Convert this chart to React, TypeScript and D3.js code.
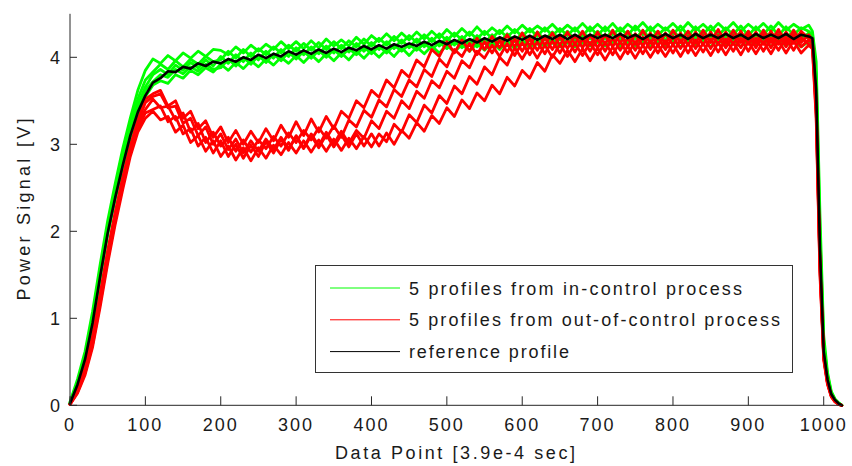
import React from "react";
import * as d3 from "d3";

const dataPoint = [
  0,10,20,30,40,50,60,70,80,90,
  100,110,120,130,140,150,160,170,180,190,
  200,210,220,230,240,250,260,270,280,290,
  300,310,320,330,340,350,360,370,380,390,
  400,410,420,430,440,450,460,470,480,490,
  500,510,520,530,540,550,560,570,580,590,
  600,610,620,630,640,650,660,670,680,690,
  700,710,720,730,740,750,760,770,780,790,
  800,810,820,830,840,850,860,870,880,890,
  900,910,920,930,940,950,960,970,980,
  985,990,995,1000,1005,1010,1015,1020,1024,
];

const reference = [
  0.02,0.24,0.53,0.95,1.48,1.98,2.39,2.76,3.10,3.37,
  3.56,3.71,3.76,3.84,3.83,3.89,3.87,3.93,3.90,3.95,
  3.93,3.98,3.95,4.00,3.97,4.03,3.99,4.04,4.01,4.07,
  4.03,4.08,4.04,4.09,4.05,4.10,4.06,4.11,4.08,4.13,
  4.09,4.14,4.10,4.15,4.12,4.16,4.13,4.18,4.14,4.19,
  4.15,4.20,4.16,4.21,4.17,4.22,4.18,4.23,4.19,4.24,
  4.20,4.25,4.20,4.25,4.21,4.26,4.21,4.26,4.21,4.26,
  4.22,4.26,4.22,4.27,4.22,4.26,4.21,4.26,4.22,4.27,
  4.22,4.26,4.21,4.27,4.22,4.26,4.22,4.27,4.22,4.26,
  4.21,4.27,4.22,4.26,4.22,4.27,4.21,4.26,4.24,
  4.22,3.62,1.80,0.62,0.30,0.13,0.06,0.02,0.00,
];

const inControl1 = [
  0.04,0.30,0.62,1.08,1.62,2.12,2.55,2.95,3.30,3.62,
  3.85,3.98,3.93,4.02,3.96,4.05,3.99,4.07,4.01,4.09,
  4.08,4.03,4.12,4.05,4.14,4.07,4.15,4.09,4.18,4.10,
  4.18,4.10,4.19,4.11,4.21,4.13,4.20,4.13,4.23,4.15,
  4.25,4.18,4.27,4.19,4.28,4.20,4.29,4.21,4.30,4.22,
  4.32,4.24,4.33,4.25,4.35,4.26,4.34,4.27,4.36,4.28,
  4.37,4.29,4.36,4.30,4.38,4.29,4.37,4.30,4.39,4.30,
  4.38,4.30,4.39,4.29,4.38,4.31,4.40,4.30,4.38,4.31,
  4.39,4.30,4.40,4.31,4.38,4.30,4.39,4.31,4.40,4.30,
  4.38,4.31,4.39,4.30,4.40,4.31,4.38,4.32,4.37,
  4.30,3.95,2.20,0.80,0.38,0.16,0.07,0.03,0.00,
];
const inControl2 = [
  0.03,0.27,0.58,1.03,1.57,2.06,2.48,2.88,3.24,3.52,
  3.74,3.83,3.92,3.86,3.96,3.89,3.98,3.92,4.01,3.95,
  3.97,4.07,3.99,4.09,4.01,4.10,4.03,4.12,4.05,4.14,
  4.07,4.16,4.08,4.17,4.09,4.18,4.10,4.19,4.12,4.21,
  4.13,4.22,4.14,4.24,4.16,4.25,4.17,4.26,4.18,4.27,
  4.19,4.28,4.20,4.29,4.21,4.30,4.22,4.31,4.23,4.32,
  4.24,4.33,4.24,4.34,4.25,4.33,4.25,4.34,4.24,4.35,
  4.25,4.35,4.26,4.34,4.25,4.36,4.26,4.35,4.25,4.34,
  4.26,4.36,4.25,4.35,4.26,4.36,4.25,4.34,4.26,4.36,
  4.25,4.35,4.26,4.36,4.25,4.35,4.26,4.34,4.30,
  4.26,3.80,2.00,0.72,0.35,0.15,0.07,0.02,0.00,
];
const inControl3 = [
  0.02,0.25,0.55,0.99,1.53,2.02,2.43,2.82,3.17,3.45,
  3.66,3.80,3.86,3.80,3.91,3.85,3.94,3.88,3.97,3.90,
  4.01,3.93,4.03,3.95,4.05,3.97,4.07,3.99,4.09,4.01,
  4.11,4.03,4.12,4.04,4.13,4.05,4.14,4.06,4.16,4.07,
  4.17,4.09,4.18,4.10,4.20,4.11,4.21,4.12,4.22,4.13,
  4.23,4.14,4.24,4.15,4.25,4.16,4.26,4.17,4.27,4.18,
  4.28,4.19,4.29,4.20,4.29,4.20,4.30,4.20,4.29,4.21,
  4.30,4.21,4.31,4.20,4.30,4.21,4.31,4.21,4.30,4.20,
  4.31,4.21,4.30,4.21,4.31,4.20,4.30,4.21,4.31,4.21,
  4.30,4.20,4.31,4.21,4.30,4.21,4.31,4.20,4.28,
  4.24,3.70,1.90,0.66,0.32,0.14,0.06,0.02,0.00,
];
const inControl4 = [
  0.02,0.24,0.53,0.96,1.50,2.00,2.41,2.79,3.13,3.41,
  3.62,3.72,3.80,3.77,3.86,3.81,3.89,3.84,3.92,3.86,
  3.88,3.98,3.90,4.00,3.92,4.02,3.94,4.04,3.96,4.06,
  3.98,4.07,3.99,4.08,4.00,4.09,4.01,4.10,4.03,4.12,
  4.04,4.13,4.05,4.14,4.07,4.15,4.08,4.16,4.09,4.17,
  4.10,4.18,4.11,4.19,4.12,4.20,4.13,4.21,4.14,4.22,
  4.15,4.23,4.15,4.24,4.16,4.24,4.16,4.25,4.16,4.25,
  4.17,4.26,4.17,4.25,4.16,4.26,4.17,4.25,4.16,4.26,
  4.17,4.25,4.16,4.26,4.17,4.25,4.16,4.26,4.17,4.25,
  4.16,4.26,4.17,4.25,4.16,4.26,4.17,4.25,4.22,
  4.20,3.66,1.85,0.64,0.31,0.13,0.06,0.02,0.00,
];
const inControl5 = [
  0.02,0.23,0.51,0.93,1.46,1.96,2.37,2.74,3.08,3.35,
  3.55,3.68,3.73,3.70,3.80,3.76,3.85,3.80,3.88,3.83,
  3.92,3.85,3.94,3.87,3.96,3.89,3.98,3.91,4.00,3.93,
  4.02,3.94,4.03,3.95,4.04,3.96,4.05,3.97,4.07,3.99,
  4.08,4.00,4.09,4.01,4.11,4.02,4.12,4.04,4.13,4.05,
  4.14,4.06,4.15,4.07,4.16,4.08,4.17,4.09,4.18,4.10,
  4.19,4.11,4.19,4.12,4.20,4.12,4.20,4.12,4.21,4.13,
  4.21,4.13,4.20,4.12,4.21,4.13,4.22,4.12,4.21,4.13,
  4.20,4.12,4.21,4.13,4.22,4.12,4.21,4.13,4.20,4.12,
  4.21,4.13,4.22,4.12,4.21,4.13,4.20,4.12,4.18,
  4.16,3.58,1.78,0.61,0.29,0.12,0.05,0.02,0.00,
];

const outControl1 = [
  0.02,0.19,0.43,0.80,1.28,1.78,2.22,2.62,2.98,3.28,
  3.52,3.58,3.62,3.44,3.50,3.30,3.38,3.18,3.27,3.08,
  3.20,3.02,3.16,3.00,3.15,3.02,3.18,3.04,3.22,3.08,
  3.26,3.10,3.29,3.14,3.32,3.18,3.38,3.30,3.50,3.42,
  3.62,3.54,3.74,3.65,3.85,3.77,3.97,3.89,4.09,4.01,
  4.18,4.05,4.20,4.07,4.22,4.09,4.24,4.11,4.26,4.12,
  4.28,4.13,4.29,4.14,4.28,4.14,4.29,4.15,4.30,4.14,
  4.29,4.15,4.31,4.16,4.30,4.15,4.31,4.16,4.30,4.15,
  4.31,4.17,4.30,4.16,4.31,4.17,4.32,4.16,4.31,4.17,
  4.30,4.16,4.31,4.17,4.32,4.16,4.31,4.17,4.26,
  4.20,3.40,1.60,0.55,0.26,0.11,0.05,0.01,0.00,
];
const outControl2 = [
  0.01,0.17,0.40,0.75,1.23,1.73,2.17,2.57,2.94,3.22,
  3.40,3.52,3.42,3.44,3.28,3.36,3.14,3.24,3.02,3.14,
  2.98,3.08,2.92,3.05,2.91,3.05,2.95,3.09,2.98,3.13,
  3.02,3.16,3.05,3.19,3.07,3.21,3.08,3.28,3.20,3.39,
  3.31,3.51,3.43,3.63,3.55,3.74,3.66,3.86,3.78,3.98,
  3.89,4.09,4.01,4.16,4.03,4.18,4.05,4.20,4.06,4.21,
  4.07,4.22,4.08,4.23,4.09,4.24,4.10,4.25,4.11,4.26,
  4.11,4.26,4.12,4.27,4.12,4.27,4.13,4.28,4.13,4.28,
  4.14,4.28,4.14,4.29,4.14,4.29,4.15,4.29,4.15,4.30,
  4.15,4.29,4.15,4.30,4.15,4.29,4.16,4.30,4.22,
  4.18,3.50,1.65,0.57,0.27,0.11,0.05,0.01,0.00,
];
const outControl3 = [
  0.01,0.15,0.37,0.70,1.17,1.67,2.12,2.52,2.90,3.18,
  3.36,3.40,3.44,3.26,3.32,3.12,3.18,2.98,3.08,2.90,
  3.04,2.86,3.00,2.84,2.99,2.86,3.03,2.90,3.06,2.93,
  3.10,2.96,3.12,2.98,3.14,3.00,3.15,3.01,3.16,3.07,
  3.27,3.18,3.38,3.30,3.50,3.41,3.61,3.53,3.73,3.65,
  3.84,3.76,3.96,3.88,4.07,3.99,4.14,4.01,4.16,4.02,
  4.17,4.03,4.18,4.04,4.19,4.05,4.20,4.06,4.21,4.07,
  4.21,4.07,4.22,4.08,4.22,4.08,4.23,4.09,4.23,4.09,
  4.24,4.10,4.24,4.10,4.25,4.10,4.25,4.11,4.25,4.11,
  4.26,4.11,4.26,4.11,4.26,4.12,4.26,4.12,4.20,
  4.16,3.45,1.62,0.56,0.26,0.11,0.05,0.01,0.00,
];
const outControl4 = [
  0.01,0.14,0.35,0.67,1.13,1.63,2.08,2.48,2.86,3.14,
  3.30,3.38,3.28,3.32,3.14,3.22,3.02,3.10,2.92,3.04,
  2.86,2.98,2.82,2.96,2.81,2.96,2.84,2.99,2.88,3.02,
  2.90,3.04,2.91,3.05,2.92,3.06,2.93,3.07,2.95,3.09,
  2.97,3.12,3.03,3.23,3.14,3.34,3.25,3.45,3.36,3.56,
  3.47,3.67,3.58,3.78,3.69,3.89,3.80,4.00,3.91,4.11,
  3.98,4.13,3.99,4.14,4.00,4.15,4.01,4.16,4.02,4.17,
  4.03,4.17,4.03,4.18,4.04,4.18,4.04,4.19,4.05,4.19,
  4.05,4.20,4.05,4.20,4.06,4.21,4.06,4.21,4.07,4.22,
  4.07,4.22,4.07,4.22,4.08,4.23,4.08,4.23,4.15,
  4.12,3.35,1.55,0.54,0.25,0.10,0.04,0.01,0.00,
];
const outControl5 = [
  0.01,0.18,0.41,0.77,1.25,1.75,2.20,2.60,2.96,3.25,
  3.48,3.55,3.58,3.42,3.44,3.24,3.30,3.10,3.20,3.00,
  3.12,2.94,3.06,2.90,3.04,2.92,3.06,2.94,3.08,2.95,
  3.09,2.95,3.10,2.96,3.11,2.97,3.11,2.97,3.12,2.98,
  3.12,2.98,3.13,3.00,3.16,3.07,3.25,3.15,3.33,3.24,
  3.42,3.32,3.51,3.41,3.59,3.50,3.68,3.58,3.77,3.67,
  3.85,3.76,3.94,3.84,4.03,3.93,4.08,3.95,4.10,3.96,
  4.11,3.97,4.12,3.98,4.13,3.99,4.14,4.00,4.14,4.01,
  4.15,4.01,4.16,4.02,4.16,4.02,4.17,4.03,4.17,4.03,
  4.18,4.04,4.18,4.04,4.19,4.05,4.19,4.05,4.14,
  4.10,3.30,1.50,0.52,0.24,0.10,0.04,0.01,0.00,
];

const xTicks = [0, 100, 200, 300, 400, 500, 600, 700, 800, 900, 1000];
const yTicks = [0, 1, 2, 3, 4];
const legendLabels = [
  "5 profiles from in-control process",
  "5 profiles from out-of-control process",
  "reference profile",
];
const legendColors = ["#00ff00", "#ff0000", "#000000"];
const legendWidths = [333, 371, 160];

const inControlSeries = [inControl1, inControl2, inControl3, inControl4, inControl5];
const outControlSeries = [outControl1, outControl2, outControl3, outControl4, outControl5];

const W = 852;
const H = 466;
const FONT = "'Liberation Sans', Arial, sans-serif";

export default function App() {
  const x = d3.scaleLinear().domain([0, 1024]).range([70, 841.8]);
  const y = d3.scaleLinear().domain([0, 4.5]).range([405.3, 13.8]);

  const line = (vals: number[]) =>
    d3
      .line<number>()
      .x((_, i) => x(dataPoint[i]))
      .y((d) => y(d))(vals.slice(0, dataPoint.length)) || "";

  const axisColor = "#262626";

  return (
    <svg
      width={W}
      height={H}
      style={{ position: "absolute", left: 0, top: 0, background: "#fff" }}
      fontFamily={FONT}
    >
      <rect x={0} y={0} width={W} height={H} fill="#ffffff" />
      <g fill="none" strokeLinejoin="round" strokeLinecap="round">
        {inControlSeries.map((s, i) => (
          <path key={"g" + i} d={line(s)} stroke="#00ff00" strokeWidth={2.8} />
        ))}
        {outControlSeries.map((s, i) => (
          <path key={"r" + i} d={line(s)} stroke="#ff0000" strokeWidth={2.8} />
        ))}
        <path d={line(reference)} stroke="#000000" strokeWidth={2.6} />
      </g>

      {/* axes */}
      <line x1={x(0)} x2={x(1024)} y1={y(0)} y2={y(0)} stroke={axisColor} strokeWidth={1} />
      <line x1={x(0)} x2={x(0)} y1={y(0)} y2={y(4.5)} stroke={axisColor} strokeWidth={1} />
      {xTicks.map((t) => (
        <g key={"xt" + t}>
          <line x1={x(t)} x2={x(t)} y1={y(0)} y2={y(0) - 9} stroke={axisColor} strokeWidth={1} />
          <text
            x={x(t)}
            y={430.5}
            textAnchor="middle"
            fontSize={18}
            letterSpacing={2}
            fill="#1a1a1a"
          >
            {t}
          </text>
        </g>
      ))}
      {yTicks.map((t) => (
        <g key={"yt" + t}>
          <line x1={x(0)} x2={x(0) + 7} y1={y(t)} y2={y(t)} stroke={axisColor} strokeWidth={1} />
          <text x={60} y={y(t) + 6.5} textAnchor="end" fontSize={18} fill="#1a1a1a">
            {t}
          </text>
        </g>
      ))}

      {/* axis titles */}
      <text
        x={455}
        y={459}
        textAnchor="middle"
        fontSize={18}
        fill="#1a1a1a"
        textLength={240}
        lengthAdjust="spacing"
      >
        Data Point [3.9e-4 sec]
      </text>
      <text
        transform={`translate(30, ${(y(0) + y(4.5)) / 2}) rotate(-90)`}
        textAnchor="middle"
        fontSize={18}
        fill="#1a1a1a"
        textLength={182}
        lengthAdjust="spacing"
      >
        Power Signal [V]
      </text>

      {/* legend */}
      <rect x={315.5} y={265.5} width={477} height={107} fill="#ffffff" stroke="#333333" strokeWidth={1} />
      {legendLabels.map((lab, i) => {
        const cy = 288 + i * 31.8;
        return (
          <g key={"lg" + i}>
            <line x1={330} x2={400} y1={cy} y2={cy} stroke={legendColors[i]} strokeWidth={1} />
            <text
              x={409}
              y={cy + 6.5}
              fontSize={18}
              fill="#1a1a1a"
              textLength={legendWidths[i]}
              lengthAdjust="spacing"
            >
              {lab}
            </text>
          </g>
        );
      })}
    </svg>
  );
}
